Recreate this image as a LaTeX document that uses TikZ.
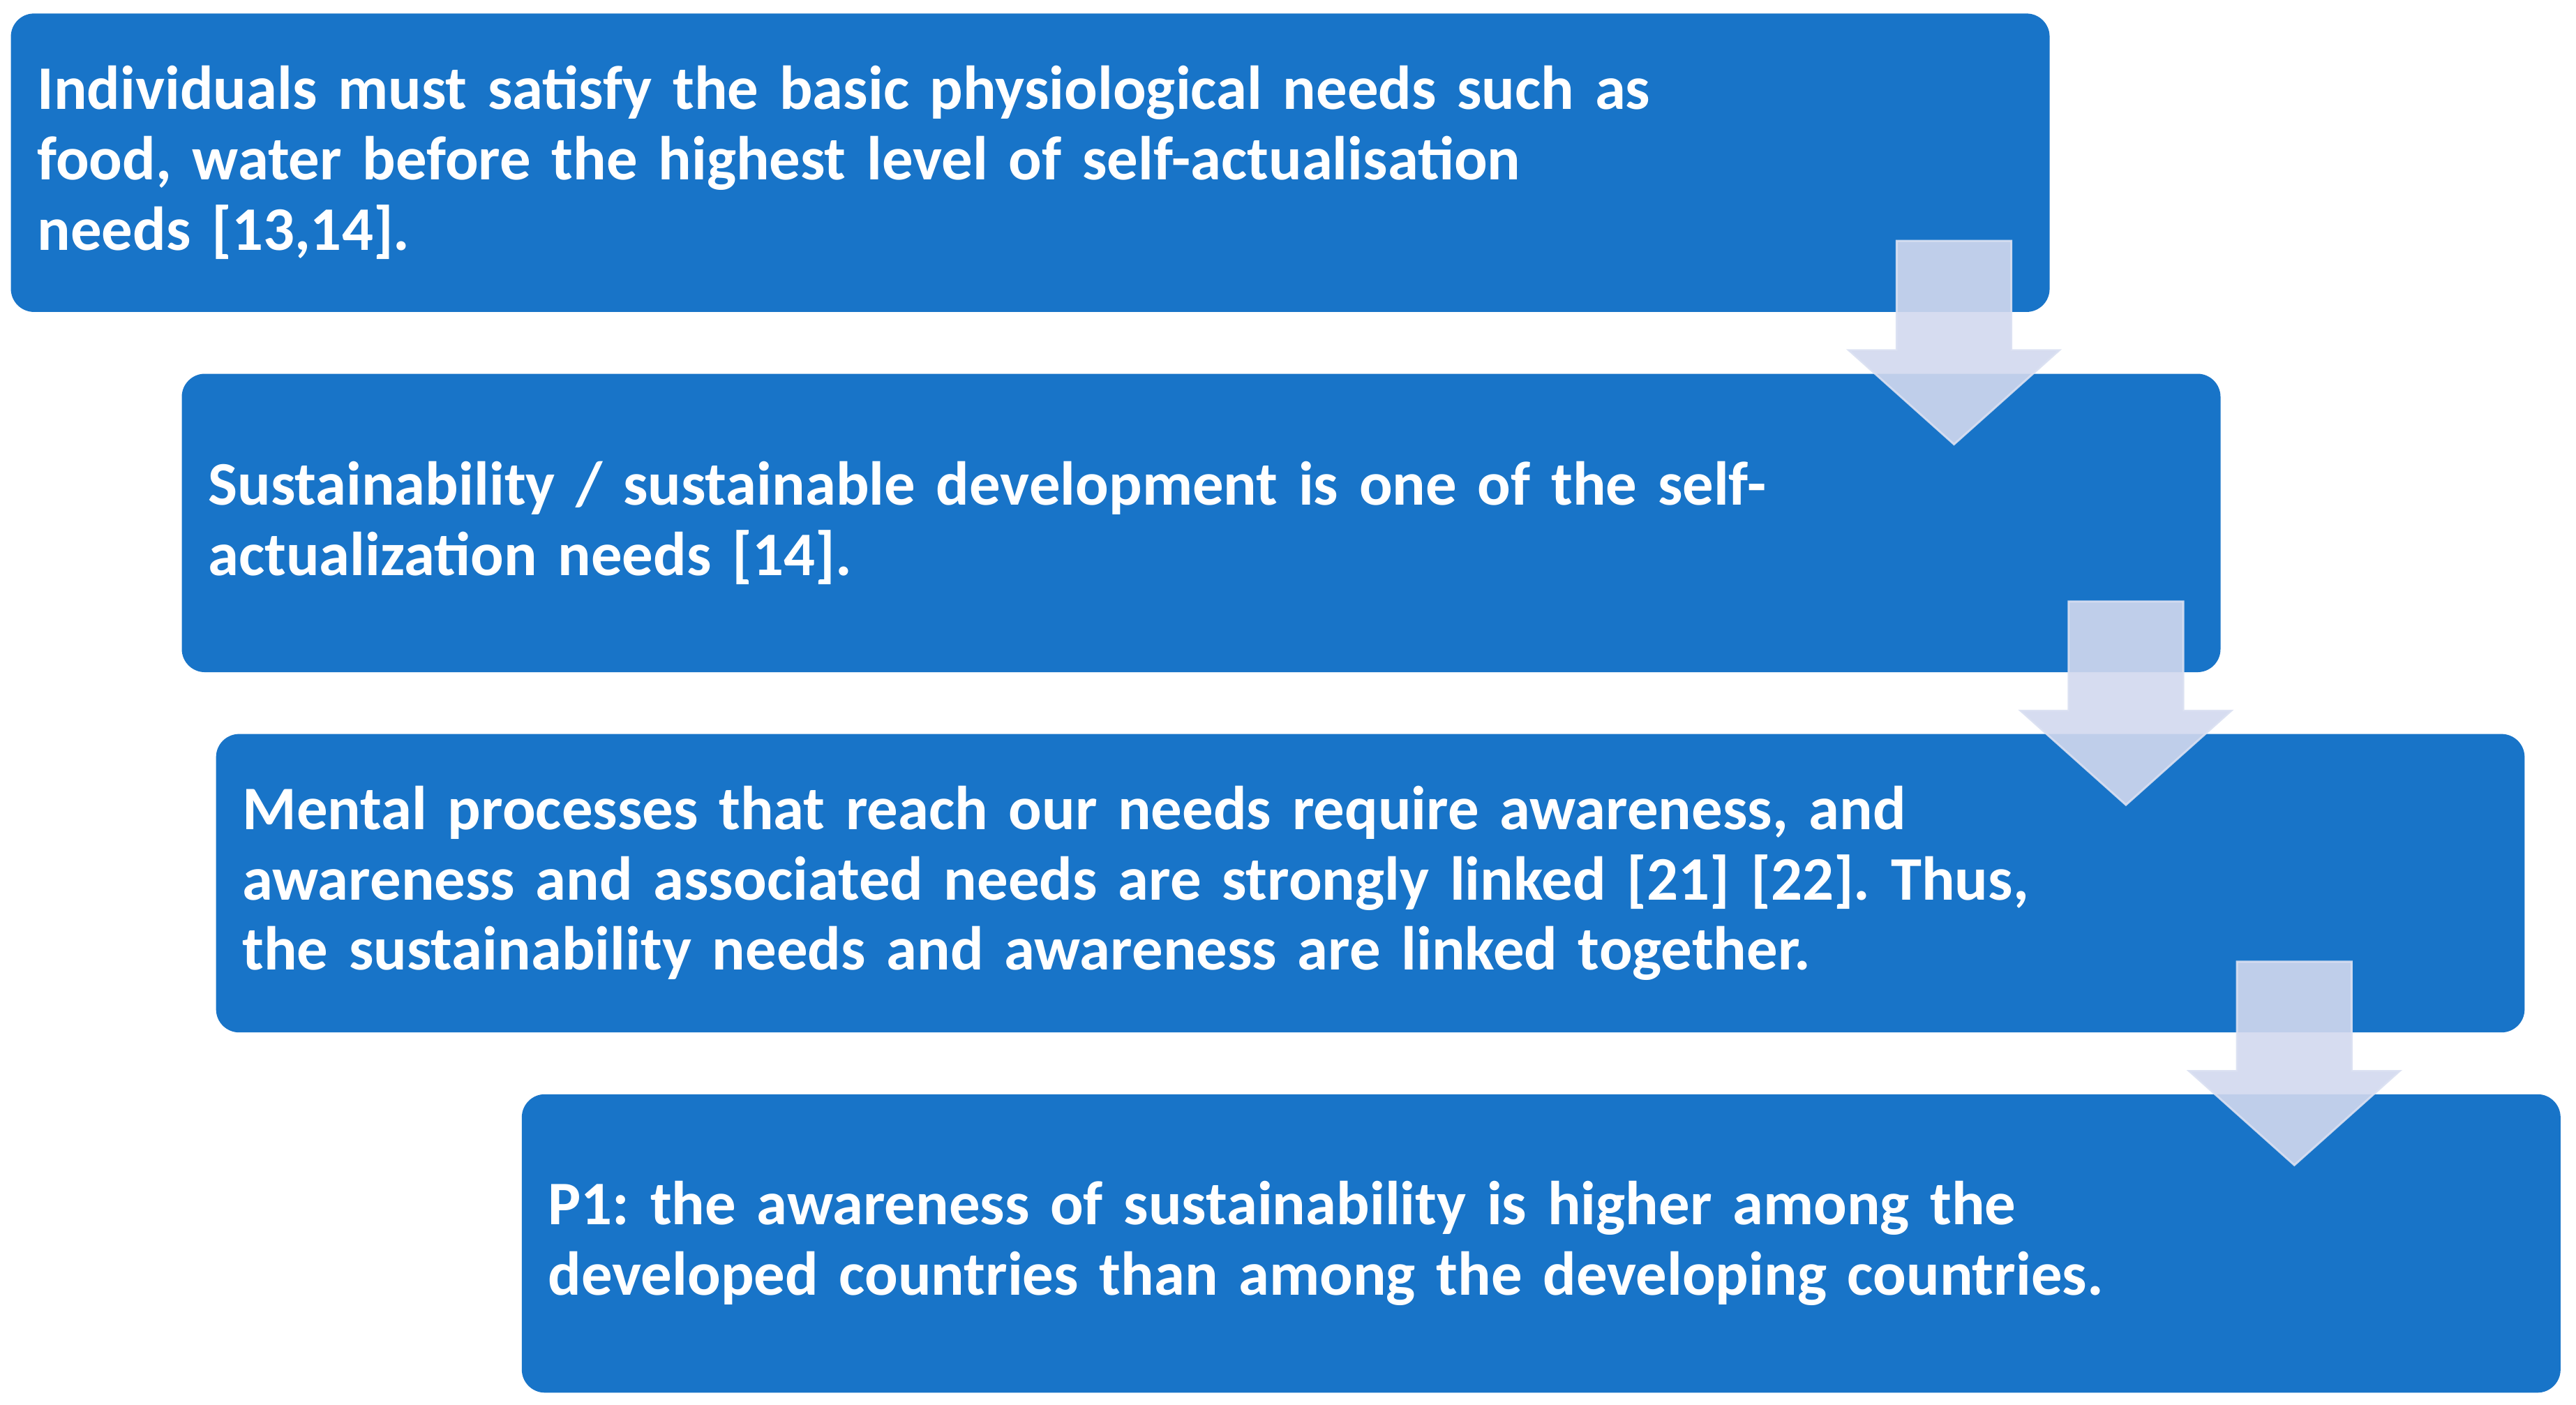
\documentclass[tikz,border=0pt]{standalone}
\usepackage{fontspec}
\setmainfont{Carlito}
\frenchspacing
\usetikzlibrary{calc}
\definecolor{boxblue}{RGB}{24,116,200}
\definecolor{arrowfill}{RGB}{210,216,238}
\definecolor{arrowline}{RGB}{218,224,242}
\tikzset{
  stepbox/.style={fill=boxblue, rounded corners=14pt, anchor=north west,
    text=white, align=left, inner xsep=16pt, inner ysep=0pt,
    minimum height=181pt,
    font=\bfseries\fontsize{37.6}{42.7}\selectfont},
  blockarrow/.style={fill=arrowfill, fill opacity=0.9, draw=arrowline,
    draw opacity=0.9, line width=1.2pt, line join=miter},
}
\newcommand{\blockarr}[1]{%
  \path[blockarrow] ($(#1)+(-34.8,0)$) -- ($(#1)+(34.8,0)$) -- ($(#1)+(34.8,66.3)$)
    -- ($(#1)+(63.9,66.3)$) -- ($(#1)+(0,123.4)$) -- ($(#1)+(-63.9,66.3)$)
    -- ($(#1)+(-34.8,66.3)$) -- cycle;}
\begin{document}
\begin{tikzpicture}[x=1pt,y=-1pt]
\useasboundingbox (0,0) rectangle (1563,851.8);
\node[stepbox, text width=1205pt] (b1) at (6.4,8)
  {Individuals must satisfy the basic physiological needs such as\\
   food, water before the highest level of self-actualisation\\
   needs [13,14].};
\node[stepbox, text width=1205pt] (b2) at (110.1,226.5)
  {Sustainability / sustainable development is one of the self-\\
   actualization needs [14].};
\node[stepbox, text width=1368.7pt] (b3) at (130.9,445)
  {Mental processes that reach our needs require awareness, and\\
   awareness and associated needs are strongly linked [21] [22]. Thus,\\
   the sustainability needs and awareness are linked together.};
\node[stepbox, text width=1205pt] (b4) at (316.4,663.5)
  {P1: the awareness of sustainability is higher among the\\
   developed countries than among the developing countries.};
\coordinate (a1) at (1185.6,146.1);
\coordinate (a2) at (1289.9,364.8);
\coordinate (a3) at (1392.1,583.3);
\blockarr{a1}
\blockarr{a2}
\blockarr{a3}
\end{tikzpicture}
\end{document}
